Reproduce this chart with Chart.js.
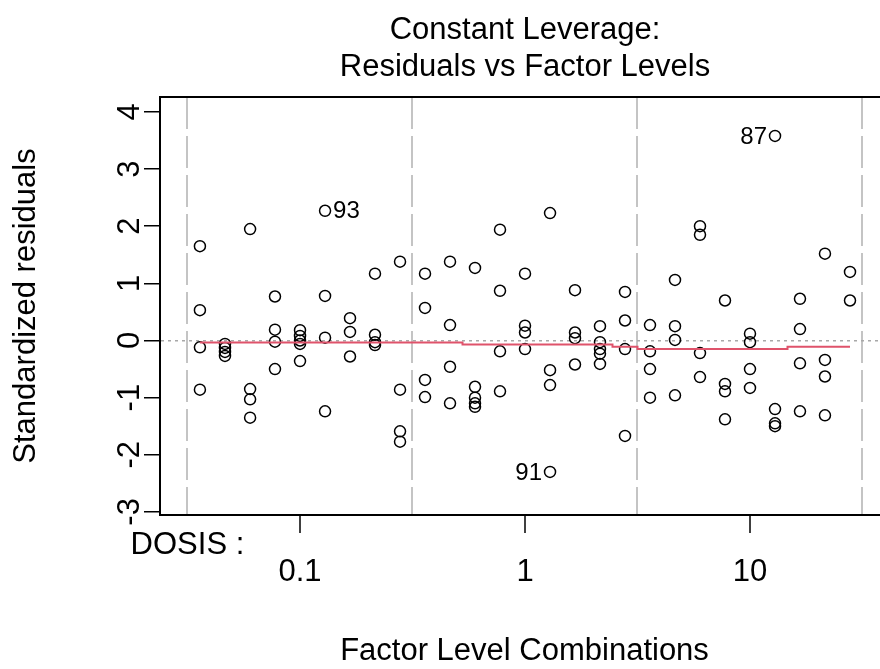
<!DOCTYPE html>
<html>
<head>
<meta charset="utf-8">
<title>Constant Leverage: Residuals vs Factor Levels</title>
<script src="https://cdn.jsdelivr.net/npm/chart.js@4.4.0/dist/chart.umd.min.js"></script>
<style>
    html, body { margin: 0; padding: 0; background: #fff; overflow: hidden; }
    #wrap { width: 880px; height: 669px; overflow: hidden; }
    canvas { display: block; }
</style>
</head>
<body>
<div id="wrap"><canvas id="residChart" width="1050" height="669"></canvas></div>
<script>
// Residuals vs factor levels (DOSIS), one column of points per level

const FONT = "'Liberation Sans', Arial, Helvetica, sans-serif";

const doseLevels = [0.0359, 0.0464, 0.0600, 0.0774, 0.1, 0.1292, 0.1668, 0.2154, 0.2783,
    0.3594, 0.4642, 0.5995, 0.7743, 1, 1.292, 1.668, 2.154, 2.783, 3.594, 4.642, 5.995,
    7.743, 10, 12.92, 16.68, 21.54, 27.83];

const residualsByLevel = [
    [1.65, 0.53, -0.12, -0.86],
    [-0.06, -0.13, -0.2, -0.27],
    [1.95, -0.85, -1.03, -1.35],
    [0.77, 0.19, -0.02, -0.5],
    [0.18, 0.08, 0.0, -0.06, -0.36],
    [2.27, 0.78, 0.05, -1.24],
    [0.39, 0.15, -0.28],
    [1.17, 0.1, -0.03, -0.08],
    [1.38, -0.86, -1.59, -1.77],
    [1.17, 0.57, -0.69, -0.99],
    [1.38, 0.27, -0.46, -1.1],
    [1.27, -0.81, -1.0, -1.1, -1.16],
    [1.94, 0.87, -0.19, -0.89],
    [1.17, 0.26, 0.14, -0.15],
    [2.23, -0.52, -0.78, -2.3],
    [0.88, 0.14, 0.04, -0.42],
    [0.25, -0.03, -0.15, -0.23, -0.41],
    [0.85, 0.35, -0.15, -1.67],
    [0.27, -0.19, -0.5, -1.0],
    [1.06, 0.25, 0.01, -0.96],
    [2.0, 1.85, -0.22, -0.64],
    [0.7, -0.76, -0.89, -1.38],
    [0.12, -0.03, -0.5, -0.83],
    [3.58, -1.2, -1.45, -1.5],
    [0.73, 0.2, -0.4, -1.24],
    [1.52, -0.34, -0.63, -1.31],
    [1.2, 0.7]
];

// red smoother, one value per level
const smoothResid = [-0.035, -0.035, -0.035, -0.035, -0.035, -0.035, -0.035, -0.035, -0.035,
    -0.035, -0.035, -0.07, -0.07, -0.07, -0.07, -0.07, -0.07, -0.11, -0.15, -0.15, -0.15,
    -0.15, -0.15, -0.15, -0.11, -0.11, -0.11];

// labelled observations: level index, index within level, id
const outlierLevel = [5, 14, 23];
const outlierIndex = [0, 3, 0];
const outlierIds = ['93', '91', '87'];
const outlierSide = ['right', 'left', 'left'];

const factorName = 'DOSIS :';
const doseTicks = [0.1, 1, 10];
const doseTickLabels = ['0.1', '1', '10'];
const groupBreaks = [0.0316, 0.316, 3.16, 31.6];
const yTickValues = [-3, -2, -1, 0, 1, 2, 3, 4];

const xMin = 0.02386, xMax = 41.48;
const yMin = -3.054, yMax = 4.261;

const points = [];
doseLevels.forEach((d, i) => {
    residualsByLevel[i].forEach(r => points.push({ x: d, y: r }));
});

const smoothLine = doseLevels.map((d, i) => ({ x: d, y: smoothResid[i] }));

// draws the observation numbers next to the flagged points
const outlierLabels = {
    id: 'outlierLabels',
    afterDatasetsDraw(chart) {
        const { ctx, scales: { x, y } } = chart;
        ctx.save();
        ctx.font = '24px ' + FONT;
        ctx.fillStyle = '#000';
        ctx.textBaseline = 'middle';
        outlierIds.forEach((id, i) => {
            const lvl = outlierLevel[i];
            const px = x.getPixelForValue(doseLevels[lvl]);
            const py = y.getPixelForValue(residualsByLevel[lvl][outlierIndex[i]]);
            if (outlierSide[i] === 'right') {
                ctx.textAlign = 'left';
                ctx.fillText(id, px + 8, py + 1);
            } else {
                ctx.textAlign = 'right';
                ctx.fillText(id, px - 8, py + 1);
            }
        });
        ctx.restore();
    }
};

const ctx = document.getElementById('residChart').getContext('2d');

new Chart(ctx, {
    type: 'scatter',
    data: {
        datasets: [{
            type: 'line',
            data: smoothLine,
            borderColor: '#DF536B',
            borderWidth: 2,
            pointRadius: 0,
            fill: false,
            stepped: 'middle'
        }, {
            data: points,
            pointStyle: 'circle',
            pointRadius: 5.5,
            pointBorderWidth: 1.5,
            borderColor: '#000',
            backgroundColor: 'rgba(0,0,0,0)'
        }]
    },
    options: {
        responsive: false,
        devicePixelRatio: 1,
        animation: false,
        events: [],
        layout: { padding: 0 },
        plugins: {
            legend: { display: false },
            tooltip: { enabled: false },
            title: {
                display: true,
                text: ['Constant Leverage:', 'Residuals vs Factor Levels'],
                color: '#000',
                font: { family: FONT, size: 31, weight: 'normal', lineHeight: '37px' },
                padding: { top: 11.5, bottom: 11.5 }
            }
        },
        scales: {
            x: {
                type: 'logarithmic',
                position: 'bottom',
                min: xMin,
                max: xMax,
                bounds: 'data',
                afterBuildTicks: scale => {
                    scale.ticks = groupBreaks.concat(doseTicks)
                        .sort((a, b) => a - b)
                        .map(v => ({ value: v }));
                },
                afterFit: scale => { scale.height = 154; },
                ticks: {
                    autoSkip: false,
                    minRotation: 0,
                    maxRotation: 0,
                    padding: -1,
                    color: '#000',
                    font: { family: FONT, size: 31, lineHeight: '27px' },
                    callback: value => {
                        const i = doseTicks.indexOf(value);
                        if (i >= 0) return ['', doseTickLabels[i]];
                        if (value === groupBreaks[0]) return factorName;
                        return '';
                    }
                },
                grid: {
                    display: true,
                    drawOnChartArea: true,
                    drawTicks: true,
                    tickLength: 18,
                    lineWidth: 2,
                    tickWidth: 1.5,
                    color: c => (c.tick && groupBreaks.includes(c.tick.value)) ? '#C4C4C4' : 'rgba(0,0,0,0)',
                    tickColor: c => (c.tick && doseTicks.includes(c.tick.value)) ? '#000' : 'rgba(0,0,0,0)'
                },
                border: { display: true, color: '#000', width: 2, dash: [32, 7] },
                title: {
                    display: true,
                    text: 'Factor Level Combinations',
                    color: '#000',
                    font: { family: FONT, size: 31, lineHeight: 1.1 },
                    padding: { top: 0, bottom: 0 }
                }
            },
            y: {
                type: 'linear',
                position: 'left',
                min: yMin,
                max: yMax,
                bounds: 'data',
                afterBuildTicks: scale => {
                    scale.ticks = yTickValues.map(v => ({ value: v }));
                },
                afterFit: scale => { scale.width = 160; },
                ticks: {
                    minRotation: 90,
                    maxRotation: 90,
                    crossAlign: 'center',
                    padding: 0,
                    color: '#000',
                    font: { family: FONT, size: 31 }
                },
                grid: {
                    display: true,
                    drawOnChartArea: true,
                    drawTicks: true,
                    tickLength: 16,
                    lineWidth: 1.5,
                    tickWidth: 1.5,
                    color: c => (c.tick && c.tick.value === 0) ? '#A8A8A8' : 'rgba(0,0,0,0)',
                    tickColor: '#000'
                },
                border: { display: true, color: '#000', width: 2, dash: [3, 4] },
                title: {
                    display: true,
                    text: 'Standardized residuals',
                    color: '#000',
                    font: { family: FONT, size: 31 },
                    padding: { top: 8, bottom: 0 }
                }
            },
            xTop: {
                type: 'linear',
                position: 'top',
                min: 0,
                max: 1,
                afterFit: scale => { scale.height = 0; },
                ticks: { display: false },
                grid: { display: false, drawTicks: false },
                border: { display: true, color: '#000', width: 2 }
            },
            yRight: {
                type: 'linear',
                position: 'right',
                min: 0,
                max: 1,
                afterFit: scale => { scale.width = 161; },
                ticks: { display: false },
                grid: { display: false, drawTicks: false },
                border: { display: true, color: '#000', width: 2 }
            }
        }
    },
    plugins: [outlierLabels]
});
</script>
</body>
</html>
